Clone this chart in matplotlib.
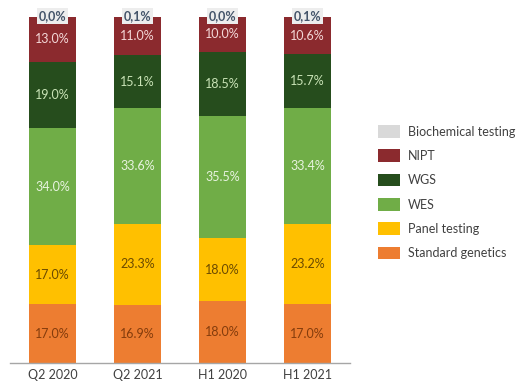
import matplotlib
matplotlib.use("Agg")
import matplotlib.pyplot as plt
import numpy as np

plt.rcParams['font.family'] = ['Lato', 'DejaVu Sans']

# ---- data ----
periods = ["Q2 2020", "Q2 2021", "H1 2020", "H1 2021"]
categories = ["Standard genetics", "Panel testing", "WES", "WGS", "NIPT", "Biochemical testing"]
standard = [17.0, 16.9, 18.0, 17.0]
panel = [17.0, 23.3, 18.0, 23.2]
wes = [34.0, 33.6, 35.5, 33.4]
wgs = [19.0, 15.1, 18.5, 15.7]
nipt = [13.0, 11.0, 10.0, 10.6]
biochem = [0.0, 0.1, 0.0, 0.1]

colors = ["#ED7D31", "#FFC000", "#70AD47", "#264D1D", "#8B2A2E", "#D9D9D9"]
text_colors = ["#843C0C", "#6B4A00", "#E8F3E0", "#C9E3B6", "#F4D8D8", "#44546A"]

series = [standard, panel, wes, wgs, nipt, biochem]

fig = plt.figure(figsize=(5.28, 3.81), dpi=100)
ax = fig.add_axes([10 / 528, 18 / 381, 340 / 528, 346 / 381])

x = np.arange(len(periods))
bottom = np.zeros(len(periods))
handles = []
for i, (name, vals) in enumerate(zip(categories, series)):
    vals = np.asarray(vals)
    b = ax.bar(x, vals, width=0.55, bottom=bottom, color=colors[i], label=name, linewidth=0)
    handles.append(b)
    for xi, v, bt in zip(x, vals, bottom):
        if i == len(series) - 1:
            # top label with light box, comma decimal
            ax.text(xi, bt + v + 0.3, f"{v:.1f}%".replace(".", ","), ha="center", va="center",
                    fontsize=9, color=text_colors[i], fontweight="bold",
                    bbox=dict(boxstyle="square,pad=0.15", facecolor="#EDEDED", edgecolor="none"))
        else:
            ax.text(xi, bt + v / 2, f"{v:.1f}%", ha="center", va="center",
                    fontsize=9, color=text_colors[i])
    bottom = bottom + vals

ax.set_xlim(-0.5, 3.5)
ax.set_ylim(0, 100)
ax.set_xticks(x)
ax.set_xticklabels(periods, fontsize=9, color="#404040")
ax.tick_params(axis="x", length=0, pad=4)
ax.set_yticks([])
for s in ["top", "right", "left"]:
    ax.spines[s].set_visible(False)
ax.spines["bottom"].set_color("#A6A6A6")
ax.spines["bottom"].set_linewidth(1.0)

leg = fig.legend(handles[::-1], categories[::-1], loc="upper left",
                 bbox_to_anchor=(378 / 528, 1 - 125 / 381), bbox_transform=fig.transFigure,
                 frameon=False, fontsize=9, borderpad=0, borderaxespad=0,
                 handlelength=1.75, handleheight=1.2, labelspacing=0.92, handletextpad=0.65)
for t in leg.get_texts():
    t.set_color("#404040")

fig.savefig("out.png", dpi=100)
